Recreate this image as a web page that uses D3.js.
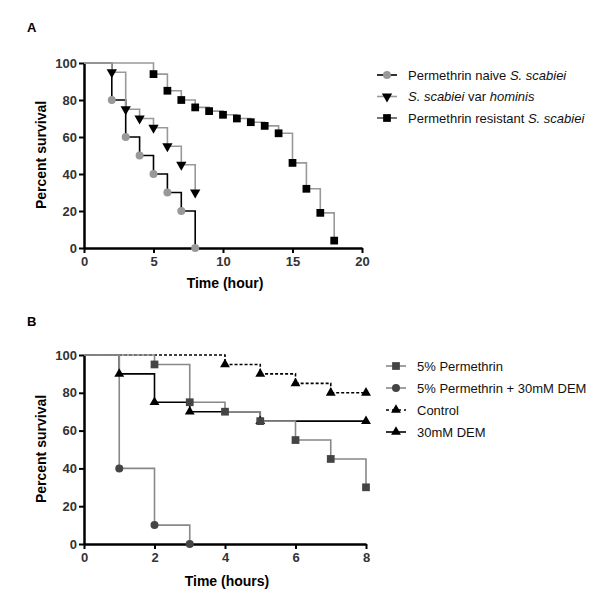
<!DOCTYPE html>
<html>
<head>
<meta charset="utf-8">
<script src="https://cdn.jsdelivr.net/npm/d3@7"></script>
<style>
  body { margin: 0; background: #fff; }
  text { font-family: "Liberation Sans", Arial, sans-serif; }
</style>
</head>
<body>
<script>
// Panel A data (time in hours, percent survival at each event)
var naiveTimes = [2, 3, 4, 5, 6, 7, 8];
var naiveSurv = [80, 60, 50, 40, 30, 20, 0];
var hominisTimes = [2, 3, 4, 5, 6, 7, 8];
var hominisSurv = [95, 75, 70, 65, 55, 45, 30];
var resistTimes = [5, 6, 7, 8, 9, 10, 11, 12, 13, 14, 15, 16, 17, 18];
var resistSurv = [94, 85, 80, 76, 74, 72, 70, 68, 66, 62, 46, 32, 19, 4];

// Panel B data
var permTimes = [2, 3, 4, 5, 6, 7, 8];
var permSurv = [95, 75, 70, 65, 55, 45, 30];
var permDemTimes = [1, 2, 3];
var permDemSurv = [40, 10, 0];
var controlTimes = [4, 5, 6, 7, 8];
var controlSurv = [95, 90, 85, 80, 80];
var demTimes = [1, 2, 3, 5, 8];
var demSurv = [90, 75, 70, 65, 65];

var ticksA = [0, 5, 10, 15, 20];
var ticksB = [0, 2, 4, 6, 8];
var yTicks = [0, 20, 40, 60, 80, 100];

var labelsA = ["Permethrin naive", "S. scabiei var hominis", "Permethrin resistant"];
var labelsB = ["5% Permethrin", "5% Permethrin + 30mM DEM", "Control", "30mM DEM"];

var svg = d3.select("body").append("svg")
  .attr("width", 600)
  .attr("height", 616);

function toPoints(times, surv) {
  var pts = [[0, 100]];
  times.forEach(function(t, i) { pts.push([t, surv[i]]); });
  return pts;
}

function drawAxes(x, y, xTicks, xLabel, panel, panelY, yMid, xLabelY) {
  var g = svg.append("g");
  var ya = g.append("g")
    .attr("transform", "translate(" + x.range()[0] + ",0)")
    .call(d3.axisLeft(y).tickValues(yTicks).tickSize(5).tickPadding(2).tickSizeOuter(0));
  var xa = g.append("g")
    .attr("transform", "translate(0," + y.range()[0] + ")")
    .call(d3.axisBottom(x).tickValues(xTicks).tickSize(5).tickPadding(4).tickSizeOuter(0));
  [ya, xa].forEach(function(a) {
    a.select(".domain").attr("stroke", "#000").attr("stroke-width", 2.5);
    a.selectAll(".tick line").attr("stroke", "#000").attr("stroke-width", 2);
    a.selectAll(".tick text").attr("fill", "#333").style("font-size", "13px").style("font-weight", "bold")
      .style("font-family", "Liberation Sans, Arial, sans-serif");
  });

  g.append("text")
    .attr("transform", "translate(46," + yMid + ") rotate(-90)")
    .attr("text-anchor", "middle")
    .style("font-size", "14px").style("font-weight", "bold")
    .text("Percent survival");

  g.append("text")
    .attr("x", (x.range()[0] + x.range()[1]) / 2 + 2)
    .attr("y", xLabelY)
    .attr("text-anchor", "middle")
    .style("font-size", "14px").style("font-weight", "bold")
    .text(xLabel);

  g.append("text")
    .attr("x", 27).attr("y", panelY)
    .style("font-size", "13px").style("font-weight", "bold")
    .text(panel);
}

function drawSeries(x, y, s) {
  var line = d3.line()
    .x(function(d) { return x(d[0]); })
    .y(function(d) { return y(d[1]); })
    .curve(d3.curveStepAfter);
  svg.append("path")
    .datum(toPoints(s.times, s.surv))
    .attr("fill", "none")
    .attr("stroke", s.line)
    .attr("stroke-width", 1.6)
    .attr("stroke-dasharray", s.dash || null)
    .attr("d", line);
}

function drawMarkers(x, y, s) {
  var sym = d3.symbol().type(s.symbol).size(s.size);
  svg.append("g").selectAll("path")
    .data(s.times.map(function(t, i) { return [t, s.surv[i]]; }))
    .enter().append("path")
    .attr("d", sym)
    .attr("fill", s.marker)
    .attr("transform", function(d) {
      return "translate(" + x(d[0]) + "," + y(d[1]) + ")" + (s.rot ? " rotate(180)" : "");
    });
}

function drawLegend(items, lx, ly, dy) {
  items.forEach(function(s, i) {
    var yy = ly + i * dy;
    svg.append("line")
      .attr("x1", lx - 10).attr("x2", lx + 10)
      .attr("y1", yy).attr("y2", yy)
      .attr("stroke", s.legendLine || s.line)
      .attr("stroke-width", 1.6)
      .attr("stroke-dasharray", s.dash ? "3,3" : null);
    svg.append("path")
      .attr("d", d3.symbol().type(s.symbol).size(s.size)())
      .attr("fill", s.marker)
      .attr("transform", "translate(" + lx + "," + yy + ")" + (s.rot ? " rotate(180)" : ""));
    var t = svg.append("text")
      .attr("x", lx + 21).attr("y", yy + 4.5)
      .style("font-size", "13px")
      .attr("fill", "#111");
    s.label.forEach(function(part) {
      t.append("tspan").style("font-style", part[1] ? "italic" : "normal").text(part[0]);
    });
  });
}

// ---- Panel A ----
var xA = d3.scaleLinear().domain([0, 20]).range([84, 362]);
var yA = d3.scaleLinear().domain([0, 100]).range([248, 63]);

var seriesA = [
  { times: naiveTimes, surv: naiveSurv, line: "#000", marker: "#999", symbol: d3.symbolCircle, size: 50,
    label: [[labelsA[0] + " ", false], ["S. scabiei", true]] },
  { times: hominisTimes, surv: hominisSurv, line: "#999", marker: "#000", symbol: d3.symbolTriangle, size: 46, rot: true,
    label: [["S. scabiei", true], [" var ", false], ["hominis", true]] },
  { times: resistTimes, surv: resistSurv, line: "#999", marker: "#000", symbol: d3.symbolSquare, size: 60,
    legendLine: "#555", label: [[labelsA[2] + " ", false], ["S. scabiei", true]] }
];

drawAxes(xA, yA, ticksA, "Time (hour)", "A", 32, 155, 288);
seriesA.forEach(function(s) { drawSeries(xA, yA, s); });
seriesA.forEach(function(s) { drawMarkers(xA, yA, s); });
drawLegend(seriesA, 387, 75, 21.5);

// ---- Panel B ----
var xB = d3.scaleLinear().domain([0, 8]).range([84, 366]);
var yB = d3.scaleLinear().domain([0, 100]).range([544, 355]);

var seriesB = [
  { times: permTimes, surv: permSurv, line: "#888", marker: "#444", symbol: d3.symbolSquare, size: 60,
    label: [[labelsB[0], false]] },
  { times: permDemTimes, surv: permDemSurv, line: "#888", marker: "#444", symbol: d3.symbolCircle, size: 50,
    label: [[labelsB[1], false]] },
  { times: controlTimes, surv: controlSurv, line: "#000", marker: "#000", symbol: d3.symbolTriangle, size: 42,
    dash: "3,2", label: [[labelsB[2], false]] },
  { times: demTimes, surv: demSurv, line: "#000", marker: "#000", symbol: d3.symbolTriangle, size: 42,
    label: [[labelsB[3], false]] }
];

drawAxes(xB, yB, ticksB, "Time (hours)", "B", 326, 449, 586);
seriesB.slice().reverse().forEach(function(s) { drawSeries(xB, yB, s); });
seriesB.slice().reverse().forEach(function(s) { drawMarkers(xB, yB, s); });
drawLegend(seriesB, 396, 366, 22);
</script>
</body>
</html>
